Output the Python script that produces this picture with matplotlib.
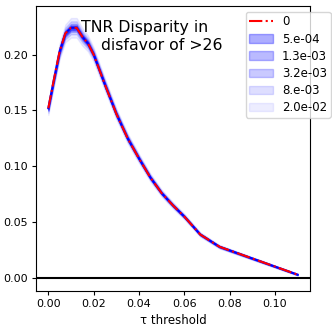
import matplotlib
matplotlib.use("Agg")
import matplotlib.pyplot as plt
import numpy as np

# threshold values
tau = [0.0, 0.0025, 0.005, 0.0075, 0.01, 0.0125, 0.015, 0.0175, 0.02, 0.025,
       0.03, 0.035, 0.04, 0.045, 0.05, 0.055, 0.06, 0.067, 0.0755, 0.11]
# disparity without noise (label "0")
disparity = [0.152, 0.178, 0.203, 0.219, 0.224, 0.224, 0.216, 0.210, 0.200, 0.173,
             0.147, 0.125, 0.107, 0.090, 0.076, 0.065, 0.055, 0.039, 0.028, 0.003]

noise_labels = ["5.e-04", "1.3e-03", "3.2e-03", "8.e-03", "2.0e-02"]
# half widths of the bands for each noise level
hw_5e4 = [0.0010, 0.0010, 0.0012, 0.0013, 0.0014, 0.0014, 0.0013, 0.0012, 0.0011, 0.0010,
          0.0009, 0.0008, 0.0007, 0.0006, 0.0006, 0.0005, 0.0005, 0.0004, 0.0004, 0.0002]
hw_1e3 = [0.0015, 0.0016, 0.0018, 0.0020, 0.0022, 0.0022, 0.0020, 0.0019, 0.0017, 0.0015,
          0.0013, 0.0012, 0.0011, 0.0010, 0.0009, 0.0008, 0.0007, 0.0006, 0.0005, 0.0003]
hw_3e3 = [0.0025, 0.0026, 0.0029, 0.0032, 0.0035, 0.0035, 0.0032, 0.0030, 0.0027, 0.0024,
          0.0021, 0.0019, 0.0017, 0.0015, 0.0013, 0.0012, 0.0011, 0.0009, 0.0008, 0.0004]
hw_8e3 = [0.0040, 0.0042, 0.0046, 0.0052, 0.0058, 0.0058, 0.0052, 0.0047, 0.0042, 0.0037,
          0.0033, 0.0030, 0.0027, 0.0024, 0.0021, 0.0019, 0.0017, 0.0014, 0.0012, 0.0006]
hw_2e2 = [0.0060, 0.0063, 0.0070, 0.0080, 0.0088, 0.0088, 0.0080, 0.0072, 0.0064, 0.0055,
          0.0049, 0.0044, 0.0040, 0.0035, 0.0031, 0.0028, 0.0025, 0.0020, 0.0016, 0.0008]
half_widths = [hw_5e4, hw_1e3, hw_3e3, hw_8e3, hw_2e2]
band_alphas = [0.32, 0.27, 0.21, 0.13, 0.07]

xticks = [0.00, 0.02, 0.04, 0.06, 0.08, 0.10]
yticks = [0.00, 0.05, 0.10, 0.15, 0.20]

fig = plt.figure(figsize=(3.32, 3.30), dpi=100)
ax = fig.add_axes([0.108, 0.118, 0.826, 0.864])

x = np.array(tau)
y = np.array(disparity)

ax.plot(x, y, "-.", color="red", lw=1.5, label="0", zorder=5)
for lab, hw, a in zip(noise_labels, half_widths, band_alphas):
    hw = np.array(hw)
    ax.fill_between(x, y - hw, y + hw, color="blue", alpha=a, label=lab, zorder=2)
ax.plot(x, y, "-", color="blue", lw=1.5, zorder=4)

ax.axhline(0, color="black", lw=1.5, zorder=3)

ax.set_xticks(xticks)
ax.set_yticks(yticks)
ax.set_xticklabels([f"{v:.2f}" for v in xticks])
ax.set_yticklabels([f"{v:.2f}" for v in yticks])
ax.tick_params(labelsize=8, length=3, pad=3)
ax.set_xlim(-0.0055, 0.1155)
ax.set_ylim(-0.0117, 0.2436)
ax.set_xlabel("τ threshold", fontsize=8.5, labelpad=3)

ax.text(0.163, 0.95, "TNR Disparity in\n    disfavor of >26", transform=ax.transAxes,
        ha="left", va="top", fontsize=11.3, zorder=6)

ax.legend(loc="upper right", bbox_to_anchor=(1.097, 1.0), fontsize=8.5,
          labelspacing=0.35, borderpad=0.3)

fig.savefig("out.png", dpi=100)
